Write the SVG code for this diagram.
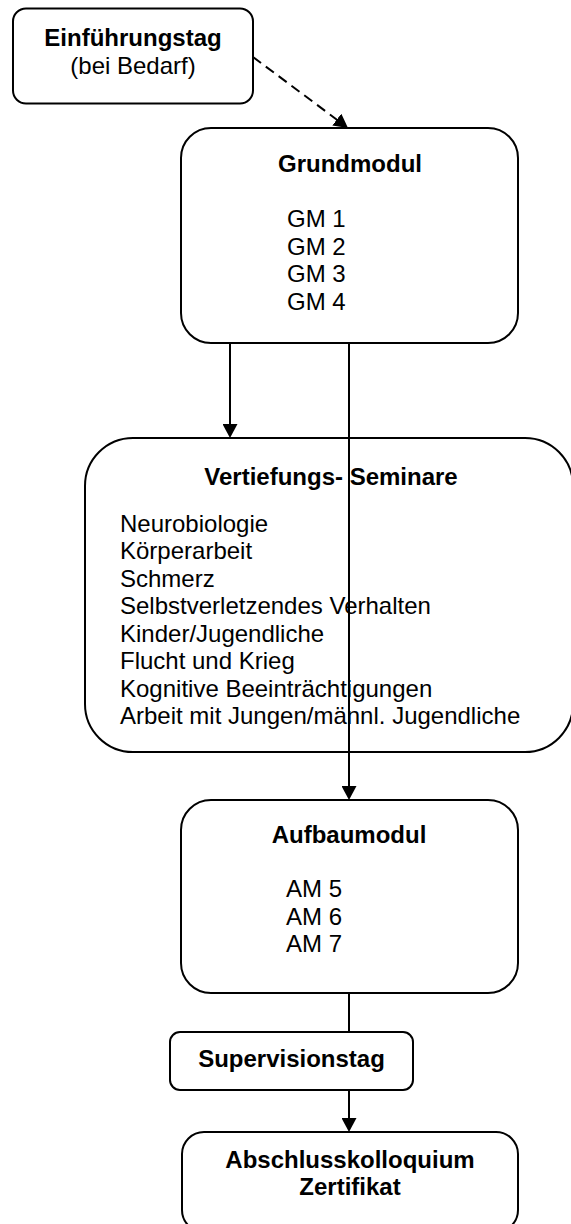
<svg xmlns="http://www.w3.org/2000/svg" width="571" height="1224" viewBox="0 0 571 1224">
<style>
.box{fill:#fff;stroke:#000;stroke-width:2}
.t{font-family:"Liberation Sans",Arial,sans-serif;font-size:24px;fill:#000}
.b{font-weight:bold}
.c{text-anchor:middle}
.con{stroke:#000;stroke-width:2;fill:none}
</style>
<defs>
<marker id="ah" markerUnits="userSpaceOnUse" markerWidth="14" markerHeight="15" viewBox="0 0 14 15" refX="10" refY="7.5" orient="auto">
<path d="M0,0 L14,7.5 L0,15 z" fill="#000"/>
</marker>
</defs>
<rect width="571" height="1224" fill="#fff"/>
<g id="einfuehrungstag">
<rect class="box" x="13" y="8.5" width="240" height="95" rx="13"/>
<text class="t b c" x="133" y="46">Einführungstag</text>
<text class="t c" x="133" y="73.6">(bei Bedarf)</text>
</g>
<g id="grundmodul">
<rect class="box" x="181" y="128" width="337" height="215" rx="30"/>
<text class="t b c" x="350" y="172">Grundmodul</text>
<text class="t" x="287" y="227">GM 1</text>
<text class="t" x="287" y="254.5">GM 2</text>
<text class="t" x="287" y="282">GM 3</text>
<text class="t" x="287" y="309.5">GM 4</text>
</g>
<g id="vertiefung">
<rect class="box" x="85" y="438" width="488" height="314" rx="48"/>
<text class="t b c" x="331" y="485">Vertiefungs- Seminare</text>
<text class="t" x="120" y="531.5">Neurobiologie</text>
<text class="t" x="120" y="559">Körperarbeit</text>
<text class="t" x="120" y="586.5">Schmerz</text>
<text class="t" x="120" y="614">Selbstverletzendes Verhalten</text>
<text class="t" x="120" y="641.5">Kinder/Jugendliche</text>
<text class="t" x="120" y="669">Flucht und Krieg</text>
<text class="t" x="120" y="696.5">Kognitive Beeinträchtigungen</text>
<text class="t" x="120" y="724">Arbeit mit Jungen/männl. Jugendliche</text>
</g>
<g id="aufbaumodul">
<rect class="box" x="181" y="800" width="337" height="193" rx="30"/>
<text class="t b c" x="349" y="843">Aufbaumodul</text>
<text class="t" x="286" y="897">AM 5</text>
<text class="t" x="286" y="924.5">AM 6</text>
<text class="t" x="286" y="952">AM 7</text>
</g>
<g id="supervisionstag">
<rect class="box" x="170" y="1032" width="243" height="58" rx="10"/>
<text class="t b c" x="291.5" y="1067">Supervisionstag</text>
</g>
<g id="abschluss">
<rect class="box" x="182" y="1132" width="336" height="100" rx="22"/>
<text class="t b c" x="350" y="1168">Abschlusskolloquium</text>
<text class="t b c" x="350" y="1195">Zertifikat</text>
</g>
<g id="connectors">
<line class="con" x1="253" y1="57" x2="344.8" y2="125.6" stroke-dasharray="10 6" marker-end="url(#ah)"/>
<line class="con" x1="230" y1="343" x2="230" y2="434" marker-end="url(#ah)"/>
<line class="con" x1="349" y1="343" x2="349" y2="796" marker-end="url(#ah)"/>
<line class="con" x1="349" y1="993" x2="349" y2="1032"/>
<line class="con" x1="349" y1="1090" x2="349" y2="1128" marker-end="url(#ah)"/>
</g>
</svg>
